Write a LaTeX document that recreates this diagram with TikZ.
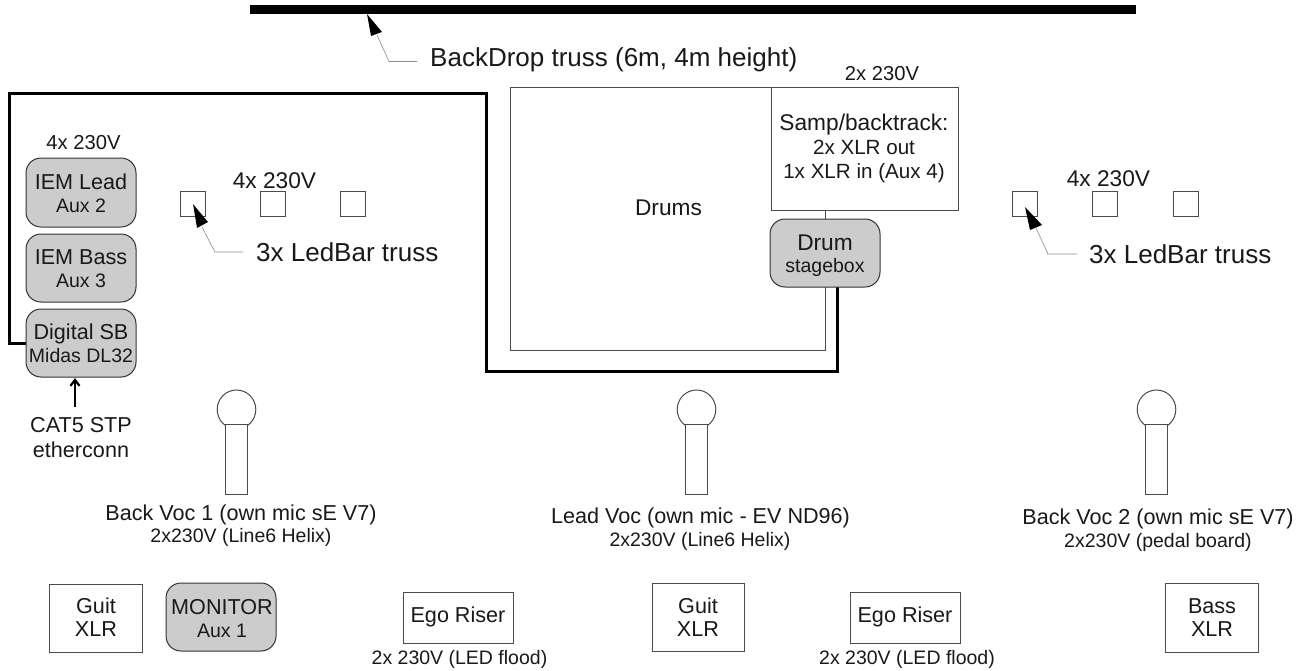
\documentclass[tikz,border=0pt]{standalone}
\usepackage{fontspec}
\usetikzlibrary{arrows.meta}
\setmainfont{Liberation Sans}
\tikzset{
  x=1pt,y=-1pt,
  graybox/.style={draw=black!80,line width=1pt,fill=black!20,rounded corners=15pt},
  plainbox/.style={draw=black!70,line width=1pt,fill=white},
  micpart/.style={draw=black!70,line width=1pt,fill=white},
  wire/.style={draw=black,line width=3pt},
  thin lead/.style={draw=black!45,line width=0.6pt},
  lab/.style={inner sep=0pt,align=center,text=black!90},
}
\newcommand{\hugetxt}{\fontsize{26}{30}\selectfont}
\newcommand{\bigtxt}{\fontsize{22.7}{23.5}\selectfont}
\newcommand{\midtxt}{\fontsize{21.6}{23}\selectfont}
\newcommand{\smalltxt}{\fontsize{19.5}{23}\selectfont}
\begin{document}
\begin{tikzpicture}
\useasboundingbox (0,0) rectangle (1306,670);
\fill[white] (0,0) rectangle (1306,670);
% truss
\coordinate (trussL) at (250,9.7);
\coordinate (trussR) at (1136,9.7);
\draw[line width=9pt] (trussL) -- (trussR);
\node[lab,anchor=west,font=\hugetxt] (backdrop) at (430,60) {BackDrop truss (6m, 4m height)};
\coordinate (bdA) at (417,61.5);\coordinate (bdB) at (389,61.5);\coordinate (bdC) at (377,35);
\draw[thin lead] (bdA) -- (bdB) -- (bdC);
\fill (367,14) -- (382,32) -- (371,36) -- cycle;
% drums
\path[plainbox] (510,87) rectangle (825,350);
\node[lab,font=\bigtxt] (drums) at (668.5,208) {Drums};
\path[plainbox] (771,87) rectangle (958,210);
\node[lab,font=\bigtxt] (samp) at (864,148.5) {Samp/backtrack:\\[1pt]{\fontsize{20.6}{23.5}\selectfont 2x XLR out}\\[0.5pt]{\fontsize{20.6}{23.5}\selectfont 1x XLR in (Aux 4)}};
\node[lab,font=\fontsize{20.2}{23}\selectfont] (p2) at (882,74) {2x 230V};
\draw[black!70,line width=1pt] (825,210) -- (825,219);
% wire
\draw[wire] (26,343) -- (9,343) -- (9,93.5) -- (486.5,93.5) -- (486.5,371.5) -- (837,371.5) -- (837,287);
% stagebox
\path[graybox] (770,219) rectangle (880,287);
\node[lab,font=\bigtxt] (stagebox) at (825,255.5) {Drum\\[-1pt]{\smalltxt stagebox}};
% left stack
\node[lab,font=\fontsize{20.2}{23}\selectfont] (p4a) at (83.5,142.5) {4x 230V};
\path[graybox] (26,158) rectangle (136,227);
\node[lab,font=\midtxt] (lead) at (81,193.5) {IEM Lead\\{\smalltxt Aux 2}};
\path[graybox] (26,234) rectangle (136,302);
\node[lab,font=\midtxt] (bass) at (81,268.5) {IEM Bass\\{\smalltxt Aux 3}};
\path[graybox] (26,309) rectangle (136,377);
\node[lab,font=\midtxt] (sb) at (81,343) {Digital SB\\{\smalltxt Midas DL32}};
\coordinate (catTop) at (75,378);\coordinate (catBot) at (75,407);
\draw[line width=2.2pt,-{Straight Barb[length=6pt,width=9pt]}] (catBot) -- (catTop);
\node[lab,font=\fontsize{21.6}{25}\selectfont] (cat) at (81,438) {CAT5 STP\\etherconn};
% LED squares
\foreach \x/\n in {180/a,260/b,340/c,1012/d,1092/e,1173/f}{
  \path[plainbox] (\x,191) rectangle ++(25,25);
}
\node[lab,font=\bigtxt] (p4b) at (274.5,180.5) {4x 230V};
\node[lab,font=\bigtxt] (p4c) at (1108.5,179) {4x 230V};
% ledbar leaders
\node[lab,anchor=west,font=\hugetxt] (lb1) at (256,252.5) {3x LedBar truss};
\draw[thin lead] (243,252) -- (215,252) -- (202,227);
\fill (193,204) -- (208,222) -- (197,228) -- cycle;
\node[lab,anchor=west,font=\hugetxt] (lb2) at (1089,254.5) {3x LedBar truss};
\draw[thin lead] (1077,254) -- (1048,254) -- (1036,228);
\fill (1025,207) -- (1042,225) -- (1030,230) -- cycle;
% mics
\foreach \c in {236.5,696.5,1156.5}{
  \path[micpart] (\c,409.5) ellipse (19.3 and 19.5);
  \path[micpart] (\c-11.3,424) rectangle (\c+11.3,494);
}
\node[lab,font=\midtxt] (v1) at (241,514.5) {Back Voc 1 (own mic sE V7)};
\node[lab,font=\smalltxt] (v1b) at (241,537.5) {2x230V (Line6 Helix)};
\node[lab,font=\midtxt] (v2) at (700.5,517.5) {Lead Voc (own mic - EV ND96)};
\node[lab,font=\smalltxt] (v2b) at (700,541) {2x230V (Line6 Helix)};
\node[lab,font=\midtxt] (v3) at (1158,518.5) {Back Voc 2 (own mic sE V7)};
\node[lab,font=\smalltxt] (v3b) at (1158,542.5) {2x230V (pedal board)};
% bottom row
\path[plainbox] (49,584) rectangle (142,652);
\node[lab,font=\midtxt] (g1) at (96,617) {Guit\\XLR};
\path[graybox] (166,583) rectangle (276,651);
\node[lab,font=\midtxt] (mon) at (222,618.5) {MONITOR\\{\smalltxt Aux 1}};
\path[plainbox] (403,592) rectangle (513,643);
\node[lab,font=\midtxt] (e1) at (458,617) {Ego Riser};
\node[lab,font=\smalltxt] (e1b) at (459.5,659) {2x 230V (LED flood)};
\path[plainbox] (652,583) rectangle (744,651);
\node[lab,font=\midtxt] (g2) at (698,617) {Guit\\XLR};
\path[plainbox] (850,592) rectangle (960,643);
\node[lab,font=\midtxt] (e2) at (905,617) {Ego Riser};
\node[lab,font=\smalltxt] (e2b) at (907,659) {2x 230V (LED flood)};
\path[plainbox] (1165,583) rectangle (1258,652);
\node[lab,font=\midtxt] (b) at (1212,617.5) {Bass\\XLR};
\end{tikzpicture}
\end{document}
